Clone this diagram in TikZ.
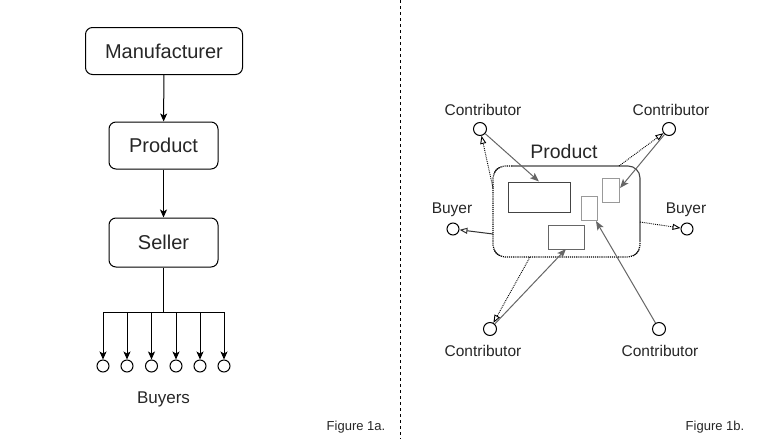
\documentclass[tikz,border=0pt]{standalone}
\usepackage{fontspec}
\setmainfont{Liberation Sans}
\usetikzlibrary{arrows.meta}
\definecolor{lgray}{HTML}{666666}
\definecolor{mgray}{HTML}{999999}
\definecolor{dgray}{HTML}{444444}
\begin{document}
\begin{tikzpicture}[x=1pt,y=-1pt, line width=1pt,
  box/.style={draw, rounded corners=7pt, minimum height=47pt, inner sep=0pt, font=\fontsize{20}{23}\selectfont, text=black!85},
  buyer/.style={draw, circle, minimum size=12pt, inner sep=0pt, fill=white},
  pt/.style={draw, circle, minimum size=13pt, inner sep=0pt, fill=white},
  lbl/.style={inner sep=0pt, font=\fontsize{15.5}{18}\selectfont, text=black!85},
  arr/.style={-{Stealth[length=8pt,width=7pt,inset=2pt]}},
  garr/.style={lgray, line width=1pt, -{Stealth[length=9pt,width=7pt,inset=2pt]}},
  oarr/.style={densely dotted, line width=0.9pt, -{Triangle[open,length=8pt,width=6pt]}},
  irect/.style={draw, inner sep=0pt}
]
\useasboundingbox (0,0) rectangle (776,439);
% ---------- Figure 1a ----------
\node[box, minimum width=157pt] (man) at (164,51) {Manufacturer};
\node[box, minimum width=109pt] (prd) at (163.5,145.5) {Product};
\node[box, minimum width=109pt, minimum height=49pt] (sel) at (163.5,242.5) {Seller};
\draw[arr] (man) -- (prd);
\draw[arr] (prd) -- (sel);
\coordinate (hub) at (163.5,312);
\foreach \i/\x in {1/103,2/127,3/151.5,4/176,5/200,6/224}{
  \node[buyer] (b\i) at (\x,366) {};
  \coordinate (t\i) at (\x,312);
}
\draw[line width=1.3pt] (sel.south) -- (hub);
\draw (t1) -- (t6);
\foreach \i in {1,...,6}{ \draw[arr] (t\i) -- (b\i); }
\node[lbl, font=\fontsize{17}{20}\selectfont] (buyers) at (163.5,399) {Buyers};
\node[inner sep=0pt, font=\fontsize{13}{15}\selectfont, text=black!85] (f1a) at (356,427) {Figure 1a.};
\node[inner sep=0pt, font=\fontsize{13}{15}\selectfont, text=black!85] (f1b) at (715,427) {Figure 1b.};
% divider
\coordinate (dtop) at (400,0);
\coordinate (dbot) at (400,439);
\draw[dash pattern=on 3pt off 3pt, line width=1pt] (dtop) -- (dbot);
% ---------- Figure 1b ----------
\node[draw=dgray, line width=1.1pt, rounded corners=12pt, minimum width=147pt, minimum height=91pt, inner sep=0pt] (pbox) at (566.5,211.5) {};
\draw[white, line width=1.3pt] (512,166) -- (493,166) -- (493,257) -- (640,257) -- (640,242);
\draw[densely dotted, line width=1.1pt, rounded corners=12pt] (512,166) -- (493,166) -- (493,257) -- (640,257) -- (640,242);
\node[inner sep=0pt, font=\fontsize{19.5}{22}\selectfont, text=black!85] (plbl) at (564,152) {Product};
\node[irect, draw=dgray, minimum width=62pt, minimum height=30pt] (r1) at (539,197) {};
\node[irect, draw=mgray, minimum width=16pt, minimum height=24pt] (r2) at (589,208) {};
\node[irect, draw=lgray, minimum width=36pt, minimum height=24pt] (r3) at (566,237) {};
\node[irect, draw=mgray, minimum width=17pt, minimum height=24pt] (r4) at (610.5,190) {};
% contributors and buyers
\node[pt] (ctl) at (480,129) {};
\node[pt] (ctr) at (669,129) {};
\node[pt] (cbl) at (490,329) {};
\node[pt] (cbr) at (659,329) {};
\node[buyer] (bl) at (453,229) {};
\node[buyer] (br) at (687,229) {};
\node[lbl] (lctl) at (483,110) {Contributor};
\node[lbl] (lctr) at (671,110) {Contributor};
\node[lbl] (lcbl) at (483,351) {Contributor};
\node[lbl] (lcbr) at (660,351) {Contributor};
\node[lbl] (lbl) at (452,210) {Buyer};
\node[lbl] (lbr) at (686,210) {Buyer};
% connector anchors on the product box
\coordinate (p1) at (493,188);
\coordinate (p2) at (493,234);
\coordinate (p3) at (619,166);
\coordinate (p4) at (640,222);
\coordinate (p5) at (530,257);
\coordinate (q1) at (620,188);
\coordinate (q2) at (566,249);
\coordinate (q3) at (596,221);
% outgoing (dotted, open heads)
\draw[oarr] (p1) -- (ctl);
\draw[-{Triangle[open,length=8pt,width=6pt]}, line width=1pt, black!80] (p2) -- (bl);
\draw[oarr] (p3) -- (ctr);
\draw[oarr] (p4) -- (br);
\draw[oarr] (p5) -- (cbl);
% incoming (gray solid)
\draw[garr] (ctl) -- (r1.north);
\draw[garr] (ctr) -- (q1);
\draw[garr] (cbl) -- (q2);
\draw[garr] (cbr) -- (q3);
\end{tikzpicture}
\end{document}
